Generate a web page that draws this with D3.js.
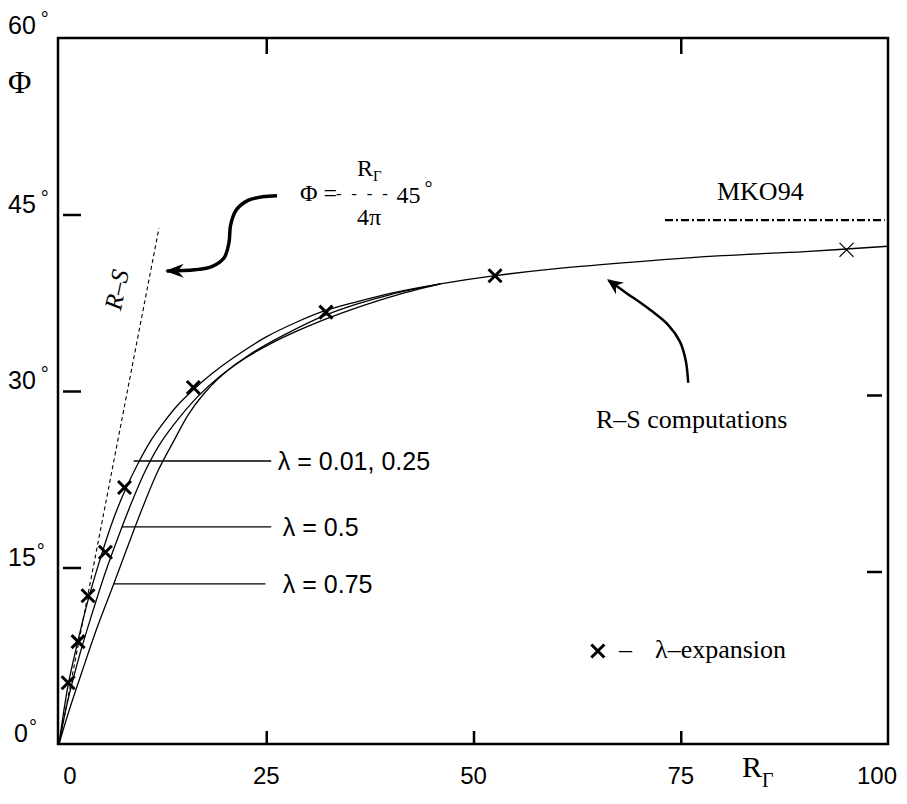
<!DOCTYPE html>
<html lang="en">
<head>
<meta charset="utf-8"/>
<script src="https://d3js.org/d3.v7.min.js"></script>
<title>Phi vs R_Gamma</title>
<style>
  body { margin: 0; background: #fff; }
  .serif { font-family: "Liberation Serif", "Times New Roman", serif; }
  .sans { font-family: "Liberation Sans", Arial, sans-serif; }
</style>
</head>
<body>
<svg id="chart"></svg>
<script>
const width = 907;
const height = 804;

// R-S computations, [R_Gamma, Phi (deg)]
const curveLam001 = [[0,0],[1.1,5.0],[2.3,8.8],[3.5,12.2],[5.0,15.8],[6.5,19.0],[8,21.6],[9.5,23.8],[11,25.7],[12.5,27.2],[14.2,28.7],[16.2,30.1],[18.5,31.5],[21,32.8],[25,34.6],[28.5,35.8],[32,36.8],[36,37.6],[40,38.3],[46,39.1],[52.6,39.8],[60,40.4],[70,41.0],[80,41.5],[90,41.85],[100,42.3]];
const curveLam05 = [[0,0],[1,3.5],[2.5,7.6],[4,11.1],[5.6,14.6],[7.2,17.7],[8.8,20.6],[10.4,23.2],[12,25.3],[13.8,27.1],[16.7,29.5],[19.5,31.3],[23,33.1],[27,34.7],[32,36.4],[36,37.4],[40,38.2],[46,39.1]];
const curveLam075 = [[0,0],[1.2,2.8],[2.8,6.2],[4.6,9.9],[6.6,13.6],[8.4,17.0],[10.2,20.3],[12,23.3],[13.8,25.7],[15.6,28.0],[17.4,29.7],[19.6,31.3],[22.5,32.8],[26,34.2],[30,35.5],[34,36.6],[40,38.0],[46,39.1]];

// lambda-expansion points
const expansionPts = [[1.1,5.2],[2.3,8.7],[3.5,12.6],[5.6,16.3],[7.9,21.8],[16.2,30.3],[32.2,36.7],[52.6,39.8],[95,42.0]];

// R-S small R line and MKO94 level
const rsLine = [[0,0],[12.06,43.85]];
const mko94Line = [[73.1,44.53],[99.6,44.53]];

const xTickLabels = [0, 25, 50, 75, 100];
const yTickLabels = [0, 15, 30, 45, 60];

// lambda labels: text, leader level, leader from/to, label position
const lamLabels = [
  {text: "\u03bb = 0.01, 0.25", phi: 24.05, r0: 9.0, r1: 25.6, tx: 26.4, ty: 23.3},
  {text: "\u03bb = 0.5", phi: 18.45, r0: 7.6, r1: 25.6, tx: 27.0, ty: 17.7},
  {text: "\u03bb = 0.75", phi: 13.6, r0: 6.6, r1: 24.9, tx: 27.0, ty: 12.8}
];

// arrows (data units)
const formulaArrow = [[26.3,46.6],[24.5,46.5],[22.8,46.2],[21.4,45.4],[20.7,44.1],[20.5,42.6],[19.9,41.3],[18.5,40.6],[16.4,40.3],[13.0,40.2]];
const rsArrow = [[75.9,30.7],[75.6,32.6],[74.9,34.2],[73.5,35.6],[71.3,36.9],[68.3,38.4],[66.3,39.4]];

const x = d3.scaleLinear().domain([0, 100]).range([59, 888]);
const y = d3.scaleLinear().domain([0, 60]).range([744, 38]);

const svg = d3.select("#chart")
  .attr("width", width)
  .attr("height", height)
  .style("background", "#fff");

const defs = svg.append("defs");
defs.append("marker")
  .attr("id", "headBold")
  .attr("viewBox", "-18 -9 20 18")
  .attr("markerWidth", 20).attr("markerHeight", 18)
  .attr("markerUnits", "userSpaceOnUse")
  .attr("orient", "auto")
  .append("path")
  .attr("d", "M2,0 L-17,-7 L-11,0 L-17,7 Z")
  .attr("fill", "#000");
defs.append("marker")
  .attr("id", "headThin")
  .attr("viewBox", "-16 -8 18 16")
  .attr("markerWidth", 18).attr("markerHeight", 16)
  .attr("markerUnits", "userSpaceOnUse")
  .attr("orient", "auto")
  .append("path")
  .attr("d", "M2,0 L-14,-7 L-9,0 L-14,7 Z")
  .attr("fill", "#000");

// frame
svg.append("rect")
  .attr("x", x(0) - 1)
  .attr("y", y(60))
  .attr("width", x(100) - x(0) + 1)
  .attr("height", y(0) - y(60))
  .attr("fill", "none")
  .attr("stroke", "#000")
  .attr("stroke-width", 2.5);

// inward ticks
const styleAxis = (g) => {
  g.select(".domain").remove();
  g.selectAll(".tick line").attr("stroke", "#000").attr("stroke-width", 2.5);
};
svg.append("g")
  .attr("transform", "translate(0," + y(0) + ")")
  .call(d3.axisBottom(x).tickValues([25, 50, 75]).tickSize(-13).tickFormat(""))
  .call(styleAxis);
svg.append("g")
  .attr("transform", "translate(0," + y(60) + ")")
  .call(d3.axisTop(x).tickValues([25, 75]).tickSize(-16).tickFormat(""))
  .call(styleAxis);
svg.append("g")
  .attr("transform", "translate(" + (x(0) + 4) + ",0)")
  .call(d3.axisLeft(y).tickValues([15, 30, 45]).tickSize(-18).tickFormat(""))
  .call(styleAxis);
svg.append("g")
  .attr("transform", "translate(" + (x(100) - 6) + ",4)")
  .call(d3.axisRight(y).tickValues([15, 30]).tickSize(-15).tickFormat(""))
  .call(styleAxis);

// tick labels
svg.append("g").selectAll("text")
  .data(xTickLabels)
  .enter().append("text")
  .attr("class", "sans")
  .attr("x", (d) => x(d) + (d === 0 ? 11 : d === 100 ? -11 : 0))
  .attr("y", y(0) + 40)
  .attr("text-anchor", "middle")
  .attr("font-size", 24)
  .text((d) => d);

const yl = svg.append("g").selectAll("text")
  .data(yTickLabels)
  .enter().append("text")
  .attr("class", "sans")
  .attr("x", (d) => d === 0 ? 14 : 8)
  .attr("y", (d) => y(d) - (d === 60 ? 4 : 2))
  .attr("font-size", 25);
yl.append("tspan").text((d) => d);
yl.append("tspan")
  .attr("dx", (d) => d === 15 || d === 0 ? 1 : 5)
  .attr("dy", -8)
  .attr("font-size", 20)
  .text("\u00b0");

// axis titles
svg.append("text")
  .attr("class", "serif")
  .attr("x", 8).attr("y", 93)
  .attr("font-size", 32)
  .text("\u03a6");
const xt = svg.append("text")
  .attr("class", "serif")
  .attr("x", 742).attr("y", 777)
  .attr("font-size", 30);
xt.append("tspan").text("R");
xt.append("tspan").attr("dy", 10).attr("font-size", 20).text("\u0393");

const line = d3.line()
  .x((d) => x(d[0]))
  .y((d) => y(d[1]));

// R-S straight line (dashed)
svg.append("path")
  .datum(rsLine)
  .attr("d", line)
  .attr("fill", "none")
  .attr("stroke", "#000")
  .attr("stroke-width", 1.1)
  .attr("stroke-dasharray", "4,3");

// MKO94 dash-dot
svg.append("path")
  .datum(mko94Line)
  .attr("d", line)
  .attr("fill", "none")
  .attr("stroke", "#000")
  .attr("stroke-width", 2.2)
  .attr("stroke-dasharray", "8,3,2,3");

// R-S computation curves
const smooth = d3.line()
  .x((d) => x(d[0]))
  .y((d) => y(d[1]))
  .curve(d3.curveCatmullRom.alpha(0.5));
svg.append("g").selectAll("path")
  .data([curveLam001, curveLam05, curveLam075])
  .enter().append("path")
  .attr("d", smooth)
  .attr("fill", "none")
  .attr("stroke", "#000")
  .attr("stroke-width", 1.3);

// lambda-expansion crosses
const crossPath = (cx, cy, s) =>
  "M" + (cx - s) + "," + (cy - s) + "L" + (cx + s) + "," + (cy + s) +
  "M" + (cx + s) + "," + (cy - s) + "L" + (cx - s) + "," + (cy + s);
svg.append("g").selectAll("path")
  .data(expansionPts)
  .enter().append("path")
  .attr("d", (d, i) => crossPath(x(d[0]), y(d[1]), i === expansionPts.length - 1 ? 7 : 6.5))
  .attr("stroke", "#000")
  .attr("stroke-width", (d, i) => i === expansionPts.length - 1 ? 1.2 : 3);

// lambda leaders and labels
svg.append("g").selectAll("line")
  .data(lamLabels)
  .enter().append("line")
  .attr("x1", (d) => x(d.r0))
  .attr("x2", (d) => x(d.r1))
  .attr("y1", (d) => y(d.phi))
  .attr("y2", (d) => y(d.phi))
  .attr("stroke", "#000")
  .attr("stroke-width", 1.3);
svg.append("g").selectAll("text")
  .data(lamLabels)
  .enter().append("text")
  .attr("class", "sans")
  .attr("x", (d) => x(d.tx))
  .attr("y", (d) => y(d.ty))
  .attr("font-size", 25)
  .text((d) => d.text);

// formula annotation
const formula = svg.append("g").attr("class", "serif").attr("font-size", 24);
formula.append("text").attr("x", x(29.07)).attr("y", y(46.15)).text("\u03a6 =");
formula.append("text").attr("x", x(33.4)).attr("y", y(46.3))
  .attr("font-size", 17)
  .attr("textLength", 52).attr("lengthAdjust", "spacing").text("----");
const num = formula.append("text").attr("x", x(35.95)).attr("y", y(48.3));
num.append("tspan").text("R");
num.append("tspan").attr("dy", 5).attr("font-size", 15).text("\u0393");
formula.append("text").attr("x", x(35.95)).attr("y", y(44.1)).text("4\u03c0");
const deg = formula.append("text").attr("x", x(40.7)).attr("y", y(45.98));
deg.append("tspan").text("45");
deg.append("tspan").attr("dx", 4).attr("dy", -8).attr("font-size", 20).text("\u00b0");

const curvy = d3.line()
  .x((d) => x(d[0]))
  .y((d) => y(d[1]))
  .curve(d3.curveCatmullRom);
svg.append("path")
  .datum(formulaArrow)
  .attr("d", curvy)
  .attr("fill", "none")
  .attr("stroke", "#000")
  .attr("stroke-width", 3.5)
  .attr("marker-end", "url(#headBold)");

// R-S rotated label
svg.append("text")
  .attr("class", "serif")
  .attr("font-style", "italic")
  .attr("font-size", 25)
  .attr("text-anchor", "middle")
  .attr("transform", "translate(" + x(7.0) + "," + y(38.6) + ") rotate(-78)")
  .attr("dy", 8)
  .text("R\u2013S");

// MKO94 label
svg.append("text")
  .attr("class", "serif")
  .attr("x", x(79.37)).attr("y", y(46.23))
  .attr("font-size", 26)
  .text("MKO94");

// R-S computations label and arrow
svg.append("text")
  .attr("class", "serif")
  .attr("x", x(64.78)).attr("y", y(26.86))
  .attr("font-size", 26)
  .text("R\u2013S computations");
svg.append("path")
  .datum(rsArrow)
  .attr("d", curvy)
  .attr("fill", "none")
  .attr("stroke", "#000")
  .attr("stroke-width", 2.5)
  .attr("marker-end", "url(#headThin)");

// legend: x - lambda-expansion
svg.append("path")
  .attr("d", crossPath(x(65.0), y(7.9), 6.5))
  .attr("stroke", "#000")
  .attr("stroke-width", 3);
svg.append("text")
  .attr("class", "serif")
  .attr("x", x(67.55)).attr("y", y(7.31))
  .attr("font-size", 26)
  .text("\u2013");
svg.append("text")
  .attr("class", "serif")
  .attr("x", x(71.9)).attr("y", y(7.31))
  .attr("font-size", 26)
  .text("\u03bb\u2013expansion");
</script>
</body>
</html>
